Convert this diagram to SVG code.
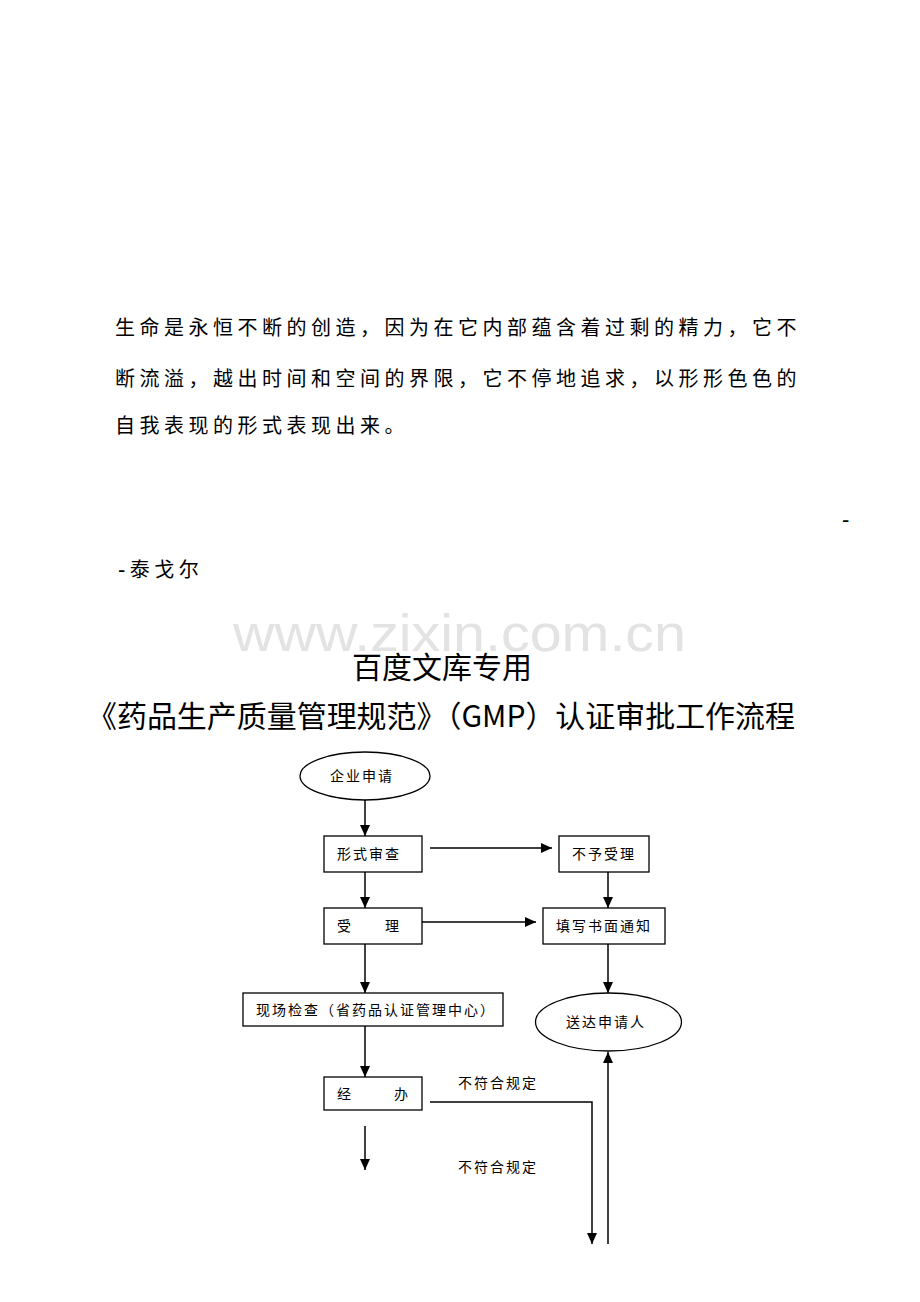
<svg xmlns="http://www.w3.org/2000/svg" width="920" height="1302" viewBox="0 0 920 1302">
<style>
.p{font-family:"Noto Sans CJK SC","Liberation Serif",serif;font-size:20px;letter-spacing:4.5px;fill:#000}
.d{font-family:"Liberation Sans",sans-serif;font-size:22px}
.t{font-family:"Noto Sans CJK SC","Liberation Sans",sans-serif;fill:#000}
.n{font-family:"Noto Sans CJK SC","Liberation Serif",serif;font-size:14px;letter-spacing:2px;fill:#000}
.box{fill:#fff;stroke:#000;stroke-width:1.3}
.c{fill:none;stroke:#000;stroke-width:1.5}
.wm{font-family:"Liberation Sans",Arial,sans-serif;font-size:52px;fill:#e3e3e3}
</style>
<defs>
<marker id="ah" markerUnits="userSpaceOnUse" markerWidth="12" markerHeight="10" refX="11" refY="5" orient="auto">
<path d="M0,0 L11,5 L0,10 Z" fill="#000"/>
</marker>
</defs>
<rect width="920" height="1302" fill="#fff"/>
<text class="p" x="115" y="335">生命是永恒不断的创造，因为在它内部蕴含着过剩的精力，它不</text>
<text class="p" x="115" y="386">断流溢，越出时间和空间的界限，它不停地追求，以形形色色的</text>
<text class="p" x="115" y="433">自我表现的形式表现出来。</text>
<text class="p d" x="842" y="527">-</text>
<text class="p" x="118" y="577"><tspan class="d">-</tspan>泰戈尔</text>
<text class="wm" x="233" y="651" textLength="453" lengthAdjust="spacingAndGlyphs">www.zixin.com.cn</text>
<text class="t" x="442" y="678" font-size="30" text-anchor="middle">百度文库专用</text>
<text class="t" x="87" y="727" font-size="30" textLength="708" lengthAdjust="spacingAndGlyphs">《药品生产质量管理规范》（GMP）认证审批工作流程</text>
<g id="connectors">
<line class="c" x1="365" y1="800" x2="365" y2="836" marker-end="url(#ah)"/>
<line class="c" x1="365" y1="872" x2="365" y2="908" marker-end="url(#ah)"/>
<line class="c" x1="365" y1="944" x2="365" y2="993" marker-end="url(#ah)"/>
<line class="c" x1="365" y1="1026" x2="365" y2="1077" marker-end="url(#ah)"/>
<line class="c" x1="365" y1="1126" x2="365" y2="1170" marker-end="url(#ah)"/>
<line class="c" x1="430" y1="848" x2="552" y2="848" marker-end="url(#ah)"/>
<line class="c" x1="422" y1="922" x2="536" y2="922" marker-end="url(#ah)"/>
<line class="c" x1="608" y1="872" x2="608" y2="908" marker-end="url(#ah)"/>
<line class="c" x1="608" y1="944" x2="608" y2="993" marker-end="url(#ah)"/>
<polyline class="c" points="430,1102 592,1102 592,1244" marker-end="url(#ah)"/>
<line class="c" x1="608" y1="1244" x2="608" y2="1052" marker-end="url(#ah)"/>
<text class="n" x="458" y="1088">不符合规定</text>
<text class="n" x="458" y="1172">不符合规定</text>
</g>
<g id="n1"><ellipse class="box" cx="365" cy="776" rx="65" ry="24"/><text class="n" x="330" y="781">企业申请</text></g>
<g id="n2"><rect class="box" x="324" y="836" width="98" height="36"/><text class="n" x="337" y="859">形式审查</text></g>
<g id="n3"><rect class="box" x="559" y="836" width="90" height="36"/><text class="n" x="572" y="859">不予受理</text></g>
<g id="n4"><rect class="box" x="324" y="908" width="98" height="36"/><text class="n" x="337" y="931">受</text><text class="n" x="385" y="931">理</text></g>
<g id="n5"><rect class="box" x="543" y="908" width="122" height="36"/><text class="n" x="556" y="931">填写书面通知</text></g>
<g id="n6"><rect class="box" x="243" y="993" width="260" height="33"/><text class="n" x="256" y="1015">现场检查（省药品认证管理中心）</text></g>
<g id="n7"><ellipse class="box" cx="608.5" cy="1022" rx="73" ry="29"/><text class="n" x="566" y="1027">送达申请人</text></g>
<g id="n8"><rect class="box" x="324" y="1077" width="98" height="33"/><text class="n" x="337" y="1099">经</text><text class="n" x="394" y="1099">办</text></g>
</svg>
